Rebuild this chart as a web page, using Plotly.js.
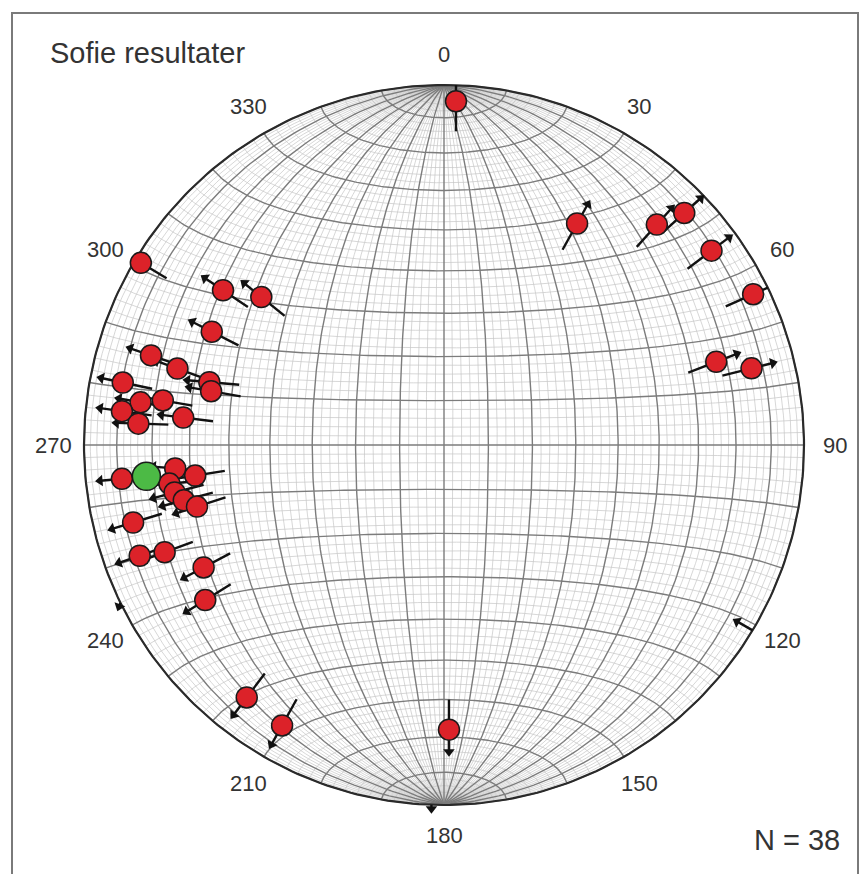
<!DOCTYPE html>
<html><head><meta charset="utf-8">
<script src="https://cdn.plot.ly/plotly-3.0.1.min.js"></script>
<style>html,body{margin:0;padding:0;background:#fff}#c{width:868px;height:874px}</style>
</head><body><div id="c"></div>
<script>
// Poles (trend, plunge in degrees) and slip-arrow azimuths
const poleTrend   = [301,305,309,296,287,286,285,283,281,278,279,276,274,276,264,265,263,262,260,258,256,256,250,249,243,237,218,210,179,2,31,44,46,54,64,73,76];
const polePlunge  = [2,26,35,29,16,24,33,34,10,16,22,11,16,28,11,26,31,24,25,27,30,12,11,18,26,22,12,11,22,5,29,16,8,9,5,22,13];
const slipAzimuth = [301,304,309,297,289,290,275,280,282,280,280,278,272,277,265,275,261,265,255,255,252,253,251,250,242,238,217,209,180,0,29,42,48,53,66,69,76];
const meanTrend  = [264];
const meanPlunge = [18];
const edgeTrend = [244,182,121];
const edgeSlip  = [200,180,300];
const dirLabels = [0,30,60,90,120,150,180,210,240,270,300,330];
const titleText = 'Sofie resultater';
const countText = 'N = 38';

const D = Math.PI/180;
const PX = 1/360;
function proj(t,p){ const r=Math.SQRT2*Math.sin((90-p)/2*D); return [r*Math.sin(t*D), r*Math.cos(t*D)]; }
function netPt(lam, om){
  const n=Math.sin(lam*D), e=Math.cos(lam*D)*Math.cos(om*D), d=Math.cos(lam*D)*Math.sin(om*D);
  const k=1/Math.sqrt(1+d); return [e*k, n*k];
}
function gridTrace(step, skipMajor, color, width){
  const xs=[], ys=[];
  for(let om=0; om<=180; om+=step){
    if(skipMajor && om%10===0) continue;
    for(let lam=-90; lam<=90; lam+=1){ const q=netPt(lam,om); xs.push(q[0]); ys.push(q[1]); }
    xs.push(null); ys.push(null);
  }
  for(let lam=-90+step; lam<90; lam+=step){
    if(skipMajor && lam%10===0) continue;
    for(let om=0; om<=180; om+=1){ const q=netPt(lam,om); xs.push(q[0]); ys.push(q[1]); }
    xs.push(null); ys.push(null);
  }
  return {x:xs, y:ys, mode:'lines', line:{color:color, width:width}, hoverinfo:'skip', type:'scatter'};
}
const minor = gridTrace(2, true, '#c6c6c6', 0.7);
const major = gridTrace(10, false, '#7c7c7c', 1.4);

const cx=[], cy=[];
for(let a=0;a<=360;a+=1){ cx.push(Math.sin(a*D)); cy.push(Math.cos(a*D)); }
const prim = {x:cx, y:cy, mode:'lines', line:{color:'#2a2a2a', width:2.2}, hoverinfo:'skip'};

// arrows
const HEAD=26*PX, HEADC=22*PX, TAIL=30*PX;
function tExit(px,py,dx,dy){
  const b=px*dx+py*dy, c=px*px+py*py-1; return -b+Math.sqrt(Math.max(0,b*b-c));
}
const lx=[], ly=[], hx=[], hy=[], ha=[];
const ptx=[], pty=[];
poleTrend.forEach((t,i)=>{
  const p=proj(t,polePlunge[i]); ptx.push(p[0]); pty.push(p[1]);
  const dx=Math.sin(slipAzimuth[i]*D), dy=Math.cos(slipAzimuth[i]*D);
  const tmax=tExit(p[0],p[1],dx,dy);
  const tb=tExit(p[0],p[1],-dx,-dy);
  const tail=Math.min(TAIL,tb);
  const headOK = tmax >= HEAD*0.97;
  const end = headOK ? HEADC : Math.min(HEAD,tmax);
  lx.push(p[0]-dx*tail, p[0]+dx*end, null); ly.push(p[1]-dy*tail, p[1]+dy*end, null);
  if(headOK){ hx.push(p[0]+dx*HEADC); hy.push(p[1]+dy*HEADC); ha.push(slipAzimuth[i]); }
});
edgeTrend.forEach((t,i)=>{
  const p=proj(t,0);
  const dx=Math.sin(edgeSlip[i]*D), dy=Math.cos(edgeSlip[i]*D);
  let L=18*PX; let ex=p[0]+dx*L, ey=p[1]+dy*L;
  if(Math.hypot(ex,ey)>1){ L=4*PX; ex=p[0]+dx*L; ey=p[1]+dy*L; }
  lx.push(p[0], ex, null); ly.push(p[1], ey, null);
  hx.push(ex); hy.push(ey); ha.push(edgeSlip[i]);
});
const lines = {x:lx, y:ly, mode:'lines', line:{color:'#111', width:2.4}, hoverinfo:'skip'};
const heads = {x:hx, y:hy, mode:'markers', marker:{symbol:'triangle-up', size:10, color:'#111', angle:ha, line:{width:0}}, hoverinfo:'skip'};
const pts = {x:ptx, y:pty, mode:'markers', marker:{size:21, color:'#dc2229', line:{color:'#1a1a1a', width:1.5}}, hoverinfo:'skip'};
const mp = proj(meanTrend[0], meanPlunge[0]);
const mean = {x:[mp[0]], y:[mp[1]], mode:'markers', marker:{size:28, color:'#4cba45', line:{color:'#1a1a1a', width:1.5}}, hoverinfo:'skip'};

const ann = dirLabels.map(a=>({x:1.085*Math.sin(a*D), y:1.085*Math.cos(a*D), xref:'x', yref:'y', text:String(a), showarrow:false,
  font:{family:'Liberation Sans, Arial, sans-serif', size:22, color:'#333'}, xanchor:'center', yanchor:'middle'}));
ann.push({x:48/868, y:1-53/874, xref:'paper', yref:'paper', text:titleText, showarrow:false, xanchor:'left', yanchor:'middle',
  font:{family:'Liberation Sans, Arial, sans-serif', size:29, color:'#333'}});
ann.push({x:842/868, y:1-840/874, xref:'paper', yref:'paper', text:countText, showarrow:false, xanchor:'right', yanchor:'middle',
  font:{family:'Liberation Sans, Arial, sans-serif', size:29, color:'#333'}});

const layout = {
  width:868, height:874, margin:{l:0,r:0,t:0,b:0}, paper_bgcolor:'#fff', plot_bgcolor:'#fff', showlegend:false,
  xaxis:{range:[-444/360, 424/360], visible:false, fixedrange:true},
  yaxis:{range:[-429/360, 445/360], visible:false, fixedrange:true},
  shapes:[{type:'rect', xref:'paper', yref:'paper', x0:12/868, x1:858/868, y0:-0.05, y1:1-13/874, line:{color:'#7a7a7a', width:2}}],
  annotations:ann
};
Plotly.newPlot('c', [minor, major, prim, lines, heads, pts, mean], layout, {staticPlot:true, displayModeBar:false});
</script></body></html>
